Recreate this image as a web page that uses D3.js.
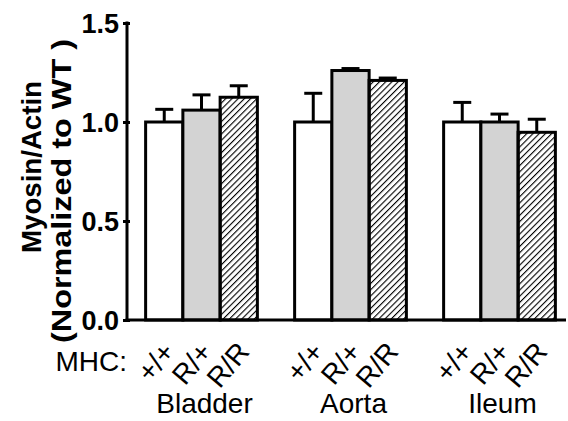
<!DOCTYPE html>
<html>
<head>
<meta charset="utf-8">
<script src="https://cdn.jsdelivr.net/npm/d3@7"></script>
<style>
  body { margin: 0; background: #fff; }
  svg { display: block; font-family: "Liberation Sans", Arial, sans-serif; }
</style>
</head>
<body>
<svg id="chart" width="568" height="421"></svg>
<script>
// data
const tissues = ["Bladder", "Aorta", "Ileum"];
const genotypes = ["+/+", "R/+", "R/R"];
const means = [
  [1.0, 1.06, 1.125],   // Bladder
  [1.0, 1.26, 1.21],    // Aorta
  [1.0, 1.0, 0.948]     // Ileum
];
const errors = [
  [0.064, 0.077, 0.058],
  [0.145, 0.01, 0.012],
  [0.099, 0.04, 0.066]
];
const yTicks = [0, 0.5, 1.0, 1.5];

const svg = d3.select("#chart");

// pattern for the R/R bars
const defs = svg.append("defs");
defs.append("pattern")
  .attr("id", "hatch")
  .attr("patternUnits", "userSpaceOnUse")
  .attr("width", 4.4)
  .attr("height", 4.4)
  .attr("patternTransform", "rotate(45)")
  .append("line")
  .attr("x1", 0).attr("y1", 0)
  .attr("x2", 0).attr("y2", 4.4)
  .attr("stroke", "#000")
  .attr("stroke-width", 2.2);

const fills = ["#fff", "#d3d3d3", "url(#hatch)"];

let x0 = d3.scaleBand()
  .domain(tissues)
  .range([127, 574])
  .paddingInner(0.25)
  .paddingOuter(0.125);

let x1 = d3.scaleBand()
  .domain(genotypes)
  .range([0, x0.bandwidth()]);

let y = d3.scaleLinear()
  .domain([0, 1.5])
  .range([320, 23]);

// flatten for binding
let rows = [];
tissues.forEach((t, i) => {
  genotypes.forEach((g, j) => {
    rows.push({ tissue: t, geno: g, j: j, mean: means[i][j], err: errors[i][j] });
  });
});

const barMid = d => x0(d.tissue) + x1(d.geno) + x1.bandwidth() / 2;

// bars
svg.append("g")
  .selectAll("rect")
  .data(rows)
  .enter()
  .append("rect")
  .attr("x", d => x0(d.tissue) + x1(d.geno))
  .attr("y", d => y(d.mean))
  .attr("width", x1.bandwidth())
  .attr("height", d => y(0) - y(d.mean))
  .attr("fill", d => fills[d.j])
  .attr("stroke", "#000")
  .attr("stroke-width", 3);

// error bars (upper only)
let eb = svg.append("g")
  .attr("stroke", "#000")
  .attr("stroke-width", 3)
  .selectAll("g")
  .data(rows)
  .enter()
  .append("g");

eb.append("line")
  .attr("x1", barMid)
  .attr("x2", barMid)
  .attr("y1", d => y(d.mean))
  .attr("y2", d => y(d.mean + d.err));

eb.append("line")
  .attr("x1", d => barMid(d) - 9)
  .attr("x2", d => barMid(d) + 9)
  .attr("y1", d => y(d.mean + d.err))
  .attr("y2", d => y(d.mean + d.err));

// y axis
let yAxis = d3.axisLeft(y)
  .tickValues(yTicks)
  .tickFormat(d3.format(".1f"))
  .tickSizeInner(5)
  .tickSizeOuter(0)
  .tickPadding(3);

let gy = svg.append("g")
  .attr("transform", "translate(127,0)")
  .call(yAxis);
gy.select(".domain").attr("stroke-width", 3).attr("d", `M0,${y(0)}V${y(1.5) - 1.5}`);
gy.selectAll(".tick line").attr("stroke-width", 3).attr("x2", 3).attr("x1", -4);
gy.selectAll(".tick text")
  .attr("font-size", 27)
  .attr("font-weight", "bold")
  .attr("font-family", "Liberation Sans, Arial, sans-serif")
  .attr("fill", "#000")
  .attr("dy", "0.36em");

// x axis baseline
svg.append("line")
  .attr("x1", 125.5).attr("x2", 566)
  .attr("y1", y(0)).attr("y2", y(0))
  .attr("stroke", "#000")
  .attr("stroke-width", 3);

// genotype labels, rotated
svg.append("g")
  .selectAll("text")
  .data(rows)
  .enter()
  .append("text")
  .attr("transform", d => `translate(${barMid(d) - 3},340) rotate(-50)`)
  .attr("text-anchor", "end")
  .attr("dy", "0.7em")
  .attr("font-size", 28)
  .text(d => d.geno);

svg.append("text")
  .attr("x", 127)
  .attr("y", 371)
  .attr("text-anchor", "end")
  .attr("font-size", 28)
  .text("MHC:");

svg.append("g")
  .selectAll("text")
  .data(tissues)
  .enter()
  .append("text")
  .attr("x", d => x0(d) + x0.bandwidth() / 2 + 3)
  .attr("y", 413)
  .attr("text-anchor", "middle")
  .attr("font-size", 28)
  .text(d => d);

// y title
let yt = svg.append("g")
  .attr("transform", "rotate(-90)")
  .attr("font-weight", "bold")
  .attr("font-size", 28)
  .attr("text-anchor", "middle");
yt.append("text").attr("x", -167).attr("y", 41)
  .attr("textLength", 172).attr("lengthAdjust", "spacingAndGlyphs")
  .text("Myosin/Actin");
yt.append("text").attr("x", -191).attr("y", 71)
  .attr("textLength", 304).attr("lengthAdjust", "spacingAndGlyphs")
  .text("(Normalized to WT )");
</script>
</body>
</html>
